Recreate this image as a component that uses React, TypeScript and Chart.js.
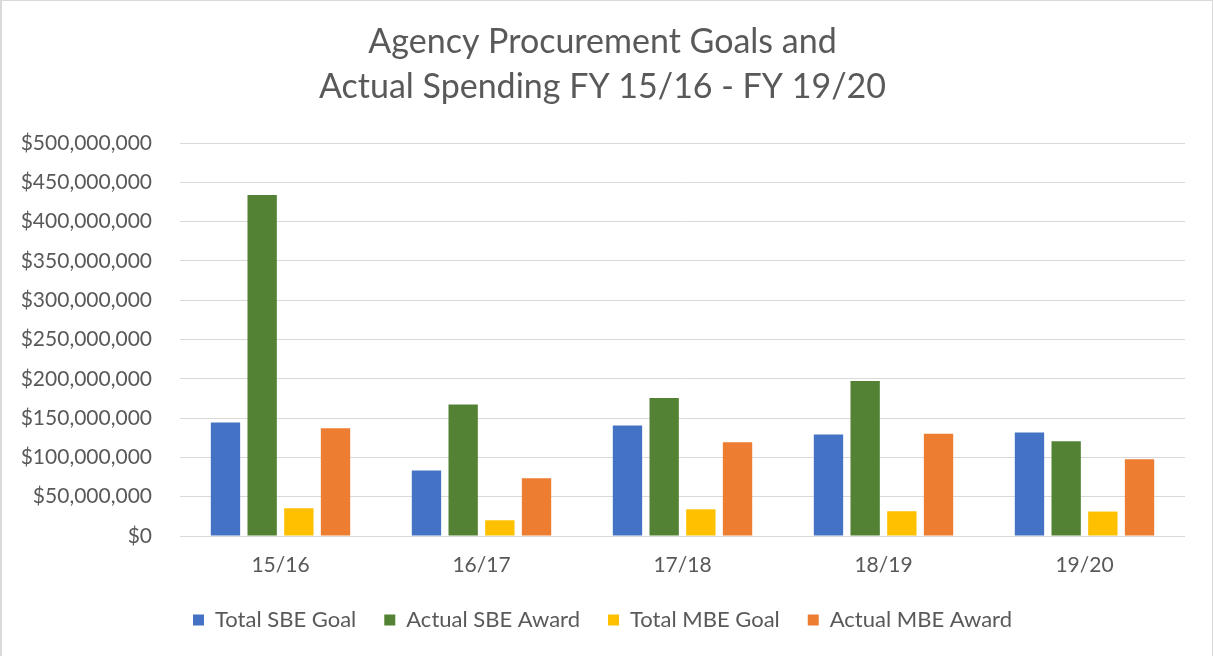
import React, { useEffect, useRef } from "react";
import { Chart, registerables } from "chart.js";

Chart.register(...registerables);

const categories = ["15/16", "16/17", "17/18", "18/19", "19/20"];
const totalSbeGoal = [144500000, 83300000, 140700000, 129200000, 131800000];
const actualSbeAward = [433700000, 167400000, 175500000, 197100000, 120700000];
const totalMbeGoal = [35300000, 20000000, 34000000, 31500000, 31100000];
const actualMbeAward = [137200000, 73500000, 119400000, 130000000, 97700000];
const titleLines = ["Agency Procurement Goals and", "Actual Spending FY 15/16 - FY 19/20"];

const TEXT = "#595959";
const FONT = "Lato, 'Open Sans', sans-serif";

export default function App() {
  const ref = useRef<HTMLCanvasElement | null>(null);

  useEffect(() => {
    if (!ref.current) return;
    const chart = new Chart(ref.current, {
      type: "bar",
      data: {
        labels: categories,
        datasets: [
          { label: "Total SBE Goal", data: totalSbeGoal, backgroundColor: "#4472C4" },
          { label: "Actual SBE Award", data: actualSbeAward, backgroundColor: "#548235" },
          { label: "Total MBE Goal", data: totalMbeGoal, backgroundColor: "#FFC000" },
          { label: "Actual MBE Award", data: actualMbeAward, backgroundColor: "#ED7D31" },
        ],
      },
      options: {
        responsive: false,
        animation: false,
        datasets: { bar: { categoryPercentage: 0.73, barPercentage: 0.8 } },
        layout: { padding: { left: 20, right: 28, top: 0, bottom: 15 } },
        plugins: {
          tooltip: { enabled: false },
          title: {
            display: true,
            text: titleLines,
            color: TEXT,
            font: { family: FONT, size: 34, weight: "normal", lineHeight: 45 / 34 },
            padding: { top: 20, bottom: 33 },
          },
          legend: {
            position: "bottom",
            labels: {
              color: TEXT,
              font: { family: FONT, size: 22 },
              boxWidth: 11,
              boxHeight: 11,
              padding: 28,
            },
          },
        },
        scales: {
          x: {
            grid: { display: false, drawTicks: false },
            border: { display: false },
            ticks: { color: TEXT, font: { family: FONT, size: 21 }, padding: 17 },
            afterFit: (scale: any) => {
              scale.height = 45;
            },
          },
          y: {
            min: 0,
            max: 500000000,
            grid: { color: "#d9d9d9", lineWidth: 1, drawTicks: false },
            border: { display: false },
            ticks: {
              stepSize: 50000000,
              color: TEXT,
              font: { family: FONT, size: 21 },
              padding: 28,
              callback: (v: any) => "$" + Number(v).toLocaleString("en-US"),
            },
            afterFit: (scale: any) => {
              scale.width = 160;
            },
          },
        },
      },
    });
    return () => chart.destroy();
  }, []);

  return (
    <div style={{ position: "absolute", left: 0, top: 0, width: 1213, height: 656, background: "#fff" }}>
      <canvas ref={ref} width={1213} height={656} style={{ display: "block" }} />
      <div
        style={{
          position: "absolute",
          inset: 0,
          boxSizing: "border-box",
          borderLeft: "2px solid #d9d9d9",
          borderTop: "1px solid #d9d9d9",
          borderRight: "1px solid #d9d9d9",
          pointerEvents: "none",
        }}
      />
    </div>
  );
}
